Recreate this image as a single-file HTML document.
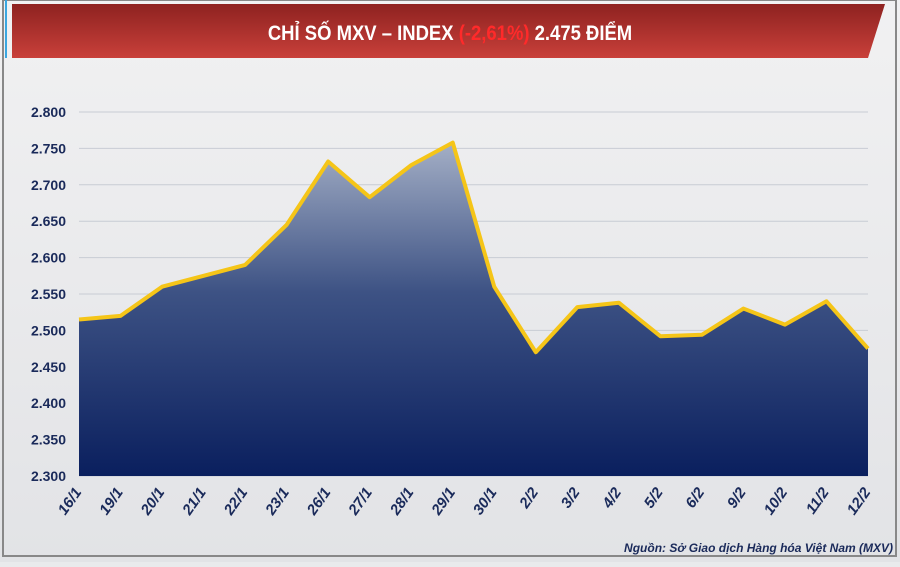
<!DOCTYPE html>
<html><head><meta charset="utf-8"><style>
body{margin:0;width:900px;height:562px;overflow:hidden;background:#e9eaec;font-family:"Liberation Sans",sans-serif}
</style></head><body>
<svg width="900" height="562" xmlns="http://www.w3.org/2000/svg" id="chart">
<defs>
<linearGradient id="bg" x1="0" y1="0" x2="0" y2="1"><stop offset="0" stop-color="#f1f1f2"/><stop offset="1" stop-color="#e2e3e6"/></linearGradient>
<linearGradient id="area" x1="0" y1="0" x2="0" y2="1"><stop offset="0" stop-color="#a4afc6"/><stop offset="0.45" stop-color="#3d5284"/><stop offset="1" stop-color="#0a1f5e"/></linearGradient>
<linearGradient id="ban" x1="0" y1="0" x2="0" y2="1"><stop offset="0" stop-color="#8e2220"/><stop offset="1" stop-color="#c9403a"/></linearGradient>
</defs>
<rect width="900" height="562" fill="url(#bg)"/>
<rect x="3" y="0" width="893" height="556" fill="none" stroke="#888" stroke-width="2"/>
<rect x="5" y="0" width="2" height="58" fill="#3aa7e0"/>
<polygon points="12,4 885,4 868,58 12,58" fill="url(#ban)"/>
<text x="450" y="40" text-anchor="middle" font-size="21" font-weight="bold" fill="#fff" transform="translate(450 0) scale(0.88 1) translate(-450 0)">CHỈ SỐ MXV – INDEX <tspan fill="#ff2a2a">(-2,61%)</tspan> 2.475 ĐIỂM</text>
<g id="grid"></g><g id="plot"></g><g id="yt"></g><g id="xt"></g>
<text x="893" y="552" text-anchor="end" font-size="12" font-style="italic" font-weight="bold" fill="#1a2a5a">Nguồn: Sở Giao dịch Hàng hóa Việt Nam (MXV)</text>
</svg>
<script>
const categories=["16/1","19/1","20/1","21/1","22/1","23/1","26/1","27/1","28/1","29/1","30/1","2/2","3/2","4/2","5/2","6/2","9/2","10/2","11/2","12/2"];
const values=[2515,2520,2560,2575,2590,2645,2732,2683,2727,2758,2560,2470,2532,2538,2492,2494,2530,2508,2540,2475];
const yTicks=[2300,2350,2400,2450,2500,2550,2600,2650,2700,2750,2800];
const NS="http://www.w3.org/2000/svg";
const x0=79,x1=868,yTop=112,yBot=476,vMin=2300,vMax=2800;
const X=i=>x0+i*(x1-x0)/(categories.length-1);
const Y=v=>yBot-(v-vMin)/(vMax-vMin)*(yBot-yTop);
function mk(t,a,p){const e=document.createElementNS(NS,t);for(const k in a)e.setAttribute(k,a[k]);p.appendChild(e);return e;}
const grid=document.getElementById('grid'),plot=document.getElementById('plot'),yt=document.getElementById('yt'),xt=document.getElementById('xt');
yTicks.forEach(v=>{
 const l=mk('line',{x1:x0,x2:x1,y1:Y(v),y2:Y(v),stroke:'#c8ccd4','stroke-width':1},grid);
 
 
 const t=mk('text',{x:66,y:Y(v)+5,'text-anchor':'end','font-size':14,'font-weight':'bold',fill:'#1a2a5a'},yt);
 t.textContent=(v/1000).toFixed(3);
 
 
});
let pts=values.map((v,i)=>X(i)+','+Y(v)).join(' ');
const a=mk('polygon',{points:X(0)+','+yBot+' '+pts+' '+X(values.length-1)+','+yBot,fill:'url(#area)'},plot);


const ln=mk('polyline',{points:pts,fill:'none',stroke:'#f5c518','stroke-width':4,'stroke-linejoin':'round'},plot);


categories.forEach((c,i)=>{
 const tx=X(i)+3,ty=492;
 const t=mk('text',{x:tx,y:ty,'text-anchor':'end','font-size':15,'font-weight':'bold','font-style':'italic',fill:'#1a2a5a',transform:`rotate(-55 ${tx} ${ty})`},xt);
 t.textContent=c;
 
 
});
</script>
</body></html>
